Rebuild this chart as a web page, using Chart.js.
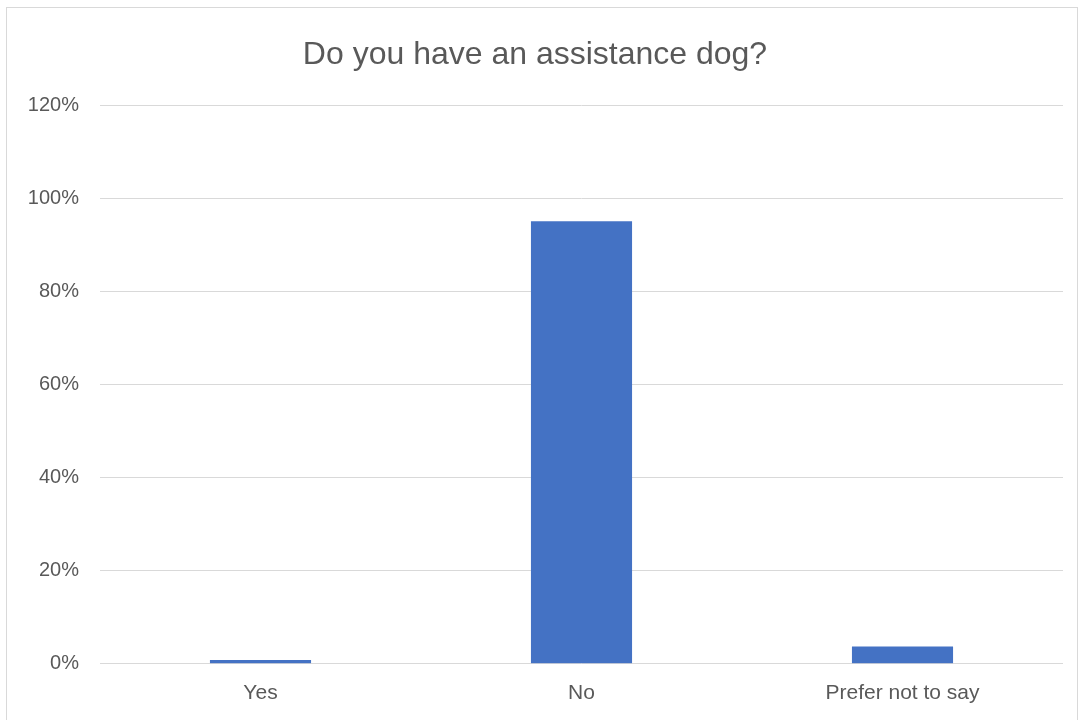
<!DOCTYPE html>
<html>
<head>
<meta charset="utf-8">
<script src="https://cdn.jsdelivr.net/npm/chart.js@4/dist/chart.umd.min.js"></script>
<style>
  body { margin: 0; background: #fff; }
  #wrap {
    position: absolute; left: 6px; top: 7px;
    width: 1070px; height: 720px;
    border: 1px solid #d9d9d9;
  }
</style>
</head>
<body>
<div id="wrap"><canvas id="dogChart"></canvas></div>
<script>
// data
const categories = ['Yes', 'No', 'Prefer not to say'];
const shares = [0.8, 95.1, 3.7];
const yTicks = [0, 20, 40, 60, 80, 100, 120];

const textGrey = '#595959';
const gridGrey = '#d9d9d9';

function renderDogChart() {
    const ctx = document.getElementById('dogChart').getContext('2d');

    new Chart(ctx, {
        type: 'bar',
        data: {
            labels: categories,
            datasets: [{
                data: shares,
                backgroundColor: '#4472c4',
                borderWidth: 0,
                categoryPercentage: 1,
                barPercentage: 0.315
            }]
        },
        options: {
            responsive: true,
            maintainAspectRatio: false,
            animation: false,
            layout: { padding: { top: 12, right: 14, bottom: 5, left: 0 } },
            plugins: {
                legend: { display: false },
                tooltip: { enabled: false },
                title: {
                    display: true,
                    text: 'Do you have an assistance dog?',
                    color: textGrey,
                    font: { family: 'Liberation Sans', size: 32, weight: 'normal' },
                    padding: { top: 16, bottom: 31 }
                }
            },
            scales: {
                x: {
                    grid: { display: false, drawTicks: false },
                    border: { display: false },
                    ticks: {
                        color: textGrey,
                        padding: 17,
                        font: { family: 'Liberation Sans', size: 21 }
                    }
                },
                y: {
                    min: yTicks[0],
                    max: yTicks[yTicks.length - 1],
                    afterBuildTicks: axis => { axis.ticks = yTicks.map(v => ({ value: v })); },
                    afterFit: axis => { axis.width = 93; },
                    grid: { color: gridGrey, lineWidth: 1, drawTicks: false },
                    border: { display: false },
                    ticks: {
                        color: textGrey,
                        padding: 21,
                        font: { family: 'Liberation Sans', size: 20 },
                        callback: v => v + '%'
                    }
                }
            }
        }
    });
}

document.addEventListener('DOMContentLoaded', renderDogChart);
</script>
</body>
</html>
